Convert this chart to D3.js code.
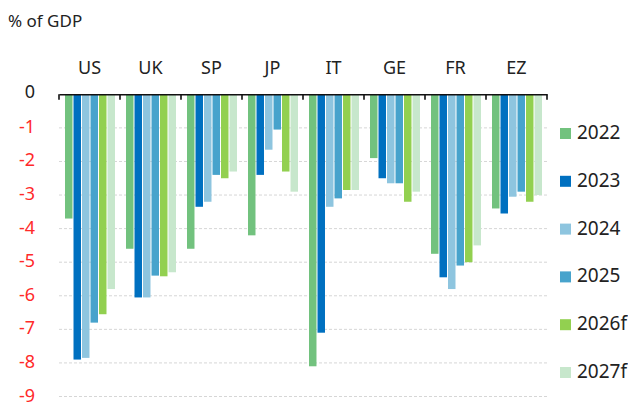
<!DOCTYPE html>
<html>
<head>
<meta charset="utf-8">
<script src="https://cdn.jsdelivr.net/npm/d3@7"></script>
<style>
  body { margin: 0; background: #fff; }
  svg text { font-family: "Noto Sans", "DejaVu Sans", sans-serif; }
</style>
</head>
<body>
<div id="chart"></div>
<script>
// Fiscal balance by country, % of GDP
const countries = ['US', 'UK', 'SP', 'JP', 'IT', 'GE', 'FR', 'EZ'];
const years = ['2022', '2023', '2024', '2025', '2026f', '2027f'];
const colors = ['#72c27e', '#0070c0', '#8ec5df', '#47a3cc', '#92d050', '#c7e7cc'];

// one array per year, in country order
const v2022 = [-3.7, -4.6, -4.6, -4.2, -8.1, -1.9, -4.75, -3.4];
const v2023 = [-7.9, -6.05, -3.35, -2.4, -7.1, -2.5, -5.45, -3.55];
const v2024 = [-7.85, -6.05, -3.2, -1.65, -3.35, -2.65, -5.8, -3.05];
const v2025 = [-6.8, -5.4, -2.4, -1.05, -3.1, -2.65, -5.1, -2.9];
const v2026f = [-6.55, -5.42, -2.5, -2.3, -2.85, -3.2, -5.0, -3.2];
const v2027f = [-5.8, -5.3, -2.3, -2.9, -2.85, -2.9, -4.5, -3.0];
const series = [v2022, v2023, v2024, v2025, v2026f, v2027f];

const yTicks = [0, -1, -2, -3, -4, -5, -6, -7, -8, -9];

const W = 628, H = 403;
const svg = d3.select('#chart').append('svg')
    .attr('width', W)
    .attr('height', H);

const x = d3.scaleBand()
    .domain(countries)
    .range([59, 547]);

const xInner = d3.scaleBand()
    .domain(years)
    .range([6, 56])
    .paddingInner(0.12);

const y = d3.scaleLinear()
    .domain([0, -9])
    .range([94.3, 396.5]);

// dashed gridlines
svg.append('g')
    .selectAll('line')
    .data(yTicks.filter(d => d !== 0))
    .join('line')
    .attr('x1', 59)
    .attr('x2', 547)
    .attr('y1', d => y(d))
    .attr('y2', d => y(d))
    .attr('stroke', '#d6d6d6')
    .attr('stroke-width', 1)
    .attr('stroke-dasharray', '3,2');

// y labels: zero black, negatives red
svg.append('g')
    .selectAll('text')
    .data(yTicks)
    .join('text')
    .attr('x', 35)
    .attr('y', d => d === 0 ? y(d) + 3.5 : y(d) + 5)
    .attr('text-anchor', 'end')
    .style('font-size', '18px')
    .style('fill', d => d === 0 ? '#222' : '#ff2a2a')
    .text(d => d);

// bars
const groups = svg.append('g')
    .selectAll('g')
    .data(countries)
    .join('g')
    .attr('transform', d => `translate(${x(d)},0)`);

groups.selectAll('rect')
    .data((c, i) => series.map((s, j) => ({ year: years[j], value: s[i], color: colors[j] })))
    .join('rect')
    .attr('x', d => xInner(d.year))
    .attr('width', xInner.bandwidth())
    .attr('y', y(0))
    .attr('height', d => y(d.value) - y(0))
    .attr('fill', d => d.color);

// zero axis with ticks pointing down
const axis = svg.append('g')
    .attr('transform', `translate(0,${y(0)})`)
    .call(d3.axisBottom(x).tickSize(0).tickFormat(''));
axis.select('.domain').attr('stroke', '#111').attr('stroke-width', 1.6);

svg.append('g')
    .selectAll('line')
    .data(countries.map(c => x(c)).concat([x.range()[1]]))
    .join('line')
    .attr('x1', d => d)
    .attr('x2', d => d)
    .attr('y1', y(0))
    .attr('y2', y(0) + 5.5)
    .attr('stroke', '#111')
    .attr('stroke-width', 1.6);

// country labels above the axis
svg.append('g')
    .selectAll('text')
    .data(countries)
    .join('text')
    .attr('x', d => x(d) + x.bandwidth() / 2)
    .attr('y', 74)
    .attr('text-anchor', 'middle')
    .style('font-size', '18px')
    .style('fill', '#222')
    .text(d => d);

// unit label
svg.append('text')
    .attr('x', 8)
    .attr('y', 27)
    .style('font-size', '17px')
    .style('fill', '#222')
    .text('% of GDP');

// legend
const legend = svg.append('g')
    .selectAll('g')
    .data(years)
    .join('g')
    .attr('transform', (d, i) => `translate(560,${139 + i * 47.8})`);

legend.append('rect')
    .attr('x', 0)
    .attr('y', -11)
    .attr('width', 11)
    .attr('height', 11)
    .attr('fill', (d, i) => colors[i]);

legend.append('text')
    .attr('x', 17)
    .attr('y', 0)
    .style('font-size', '19px')
    .style('fill', '#222')
    .text(d => d);
</script>
</body>
</html>
